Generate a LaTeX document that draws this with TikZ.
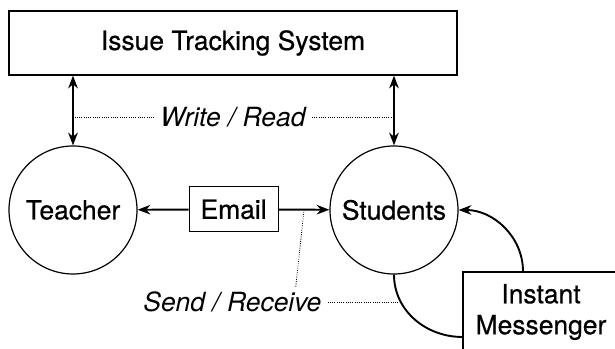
\documentclass[tikz,border=0pt]{standalone}
\usepackage{fontspec}
\setmainfont{TeX Gyre Heros}
\newfontfamily\mediumfont{TeX Gyre Heros}[FakeBold=0.6]
\usepackage{tikz}
\usepackage{tkz-euclide}
\usetikzlibrary{calc}
\usetikzlibrary{positioning}
\usetikzlibrary{arrows.meta}

\begin{document}
\begin{tikzpicture}[%
  >={Stealth[scale=1.0]},
  every node/.style={font=\mediumfont\fontsize{18.8}{22}\selectfont},
  block/.style={draw,line width=0.85pt,fill=white,inner sep=0pt},
  actor/.style={draw,circle,line width=0.85pt,minimum size=3.2cm,inner sep=0pt},
  note/.style={font=\fontsize{18.8}{22}\selectfont\itshape,inner xsep=0.15cm,inner ysep=0pt},
  link/.style={line width=1.35pt},
  hint/.style={densely dotted,line width=0.6pt},
]

  \useasboundingbox (0,0) rectangle (15.375,8.725);
  \clip (0,0) rectangle (15.375,8.725);

  \tkzDefPoint(5.825, 7.65){S}
  \tkzDefPoint(1.825, 3.475){T}
  \tkzDefPoint(9.85, 3.475){P}
  \tkzDefPoint(5.84, 3.49){E}
  \tkzDefPoint(13.525, 0.925){M}
  \tkzDefPoint(5.825, 5.8){W}
  \tkzDefPoint(5.81, 1.175){R}

  \node[block,minimum width=11.2cm,minimum height=1.6cm] (its) at (S) {Issue Tracking System};
  \node[actor] (teacher) at (T) {Teacher};
  \node[actor] (students) at (P) {Students};
  \node[block,minimum width=2.225cm,minimum height=1.125cm] (email) at (E) {Email};
  \node[block,minimum width=3.9cm,minimum height=2cm,align=center] (im) at (M) {Instant\\Messenger};
  \node[note] (wr) at (W) {Write / Read};
  \node[note] (sr) at (R) {Send / Receive};

  \draw[link,<->] (teacher.north |- its.south) -- (teacher.north);
  \draw[link,<->] (students.north |- its.south) -- (students.north);
  \draw[hint] (wr.west) -- (wr.west -| teacher.north);
  \draw[hint] (wr.east) -- (wr.east -| students.north);

  \draw[link,->] (email) -- (teacher);
  \draw[link,->] (email) -- coordinate[pos=0.5] (mail) (students);
  \draw[hint] (mail) -- ([xshift=-0.8cm,yshift=0.1cm]sr.north east);

  \draw[link,->] ([xshift=-0.45cm]im.north) to[out=90,in=0] (students.east);
  \draw[link] (students.south) to[out=-90,in=180] coordinate[pos=0.3] (chat) ([yshift=-0.625cm]im.west);
  \draw[hint] (sr.east) -- (sr.east -| chat);

\end{tikzpicture}
\end{document}
